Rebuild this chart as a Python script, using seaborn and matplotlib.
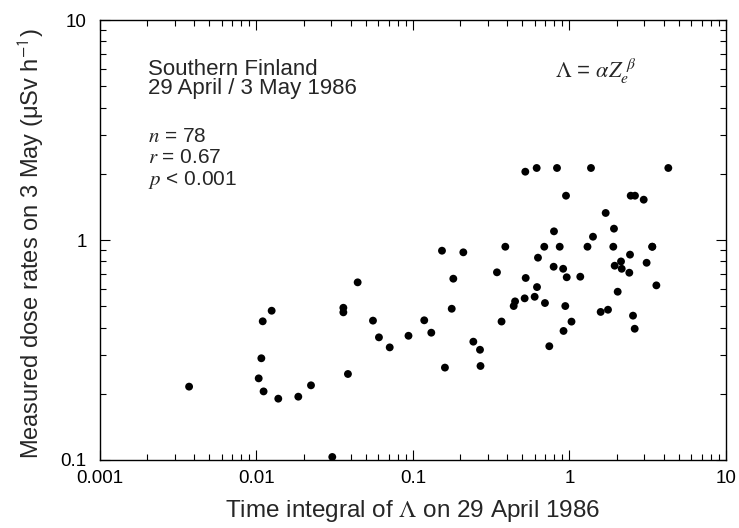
import matplotlib
matplotlib.use("Agg")
import matplotlib.pyplot as plt
import seaborn as sns
import pandas as pd
from matplotlib.ticker import FixedLocator, FixedFormatter, LogLocator, NullFormatter

# time integral of Lambda on 29 April (x) and dose rate on 3 May (y)
time_integral = [
    0.00371, 0.01096, 0.0125, 0.01074, 0.01033, 0.0111, 0.01378, 0.0185, 0.0223,
    0.0305, 0.0359, 0.0359, 0.0384, 0.0443, 0.0555, 0.0606, 0.0710, 0.0936,
    0.522, 0.617, 0.832, 1.372, 4.28, 0.950, 2.461, 2.621, 2.98, 1.703, 1.924,
    0.796, 1.413, 0.1532, 0.2097, 0.389, 0.690, 0.866, 1.303, 1.905, 3.38, 3.38,
    0.629, 2.436, 2.134, 1.944, 2.156, 3.11, 2.411, 0.792, 0.911, 0.960, 1.172,
    0.181, 0.344, 0.525, 0.620, 3.59, 2.032, 0.449, 0.440, 0.517, 0.599, 0.697,
    0.940, 0.1768, 1.582, 1.762, 2.546, 0.118, 0.368, 1.030, 0.1309, 0.916,
    2.61, 0.243, 0.268, 0.743, 0.160, 0.270,
]
dose_rate = [
    0.2155, 0.427, 0.477, 0.290, 0.235, 0.205, 0.190, 0.194, 0.2185,
    0.1032, 0.492, 0.469, 0.246, 0.642, 0.430, 0.361, 0.325, 0.367,
    2.044, 2.125, 2.125, 2.125, 2.125, 1.590, 1.590, 1.590, 1.525, 1.327, 1.126,
    1.095, 1.035, 0.894, 0.879, 0.932, 0.932, 0.932, 0.932, 0.932, 0.932, 0.932,
    0.831, 0.858, 0.799, 0.764, 0.740, 0.788, 0.710, 0.756, 0.740, 0.677, 0.681,
    0.667, 0.713, 0.672, 0.611, 0.622, 0.582, 0.526, 0.501, 0.543, 0.552, 0.517,
    0.501, 0.487, 0.471, 0.482, 0.453, 0.4315, 0.426, 0.4256, 0.379, 0.386,
    0.395, 0.345, 0.317, 0.329, 0.263, 0.2675,
]

x_ticks = [0.001, 0.01, 0.1, 1, 10]
x_tick_labels = ["0.001", "0.01", "0.1", "1", "10"]
y_ticks = [0.1, 1, 10]
y_tick_labels = ["0.1", "1", "10"]

df = pd.DataFrame({"lam": time_integral, "dose": dose_rate})

sns.set_style("ticks")
plt.rcParams["font.family"] = ["Liberation Sans", "DejaVu Sans"]
plt.rcParams["mathtext.fontset"] = "stix"

fig = plt.figure(figsize=(7.39, 5.28), dpi=100)
ax = fig.add_axes([0.1353, 0.1288, 0.8471, 0.8333])

sns.scatterplot(data=df, x="lam", y="dose", ax=ax, color="black",
                s=32, edgecolor="none", legend=False)

ax.set_xscale("log")
ax.set_yscale("log")
ax.set_xlim(0.001, 10)
ax.set_ylim(0.1, 10)

ax.xaxis.set_major_locator(FixedLocator(x_ticks))
ax.xaxis.set_major_formatter(FixedFormatter(x_tick_labels))
ax.yaxis.set_major_locator(FixedLocator(y_ticks))
ax.yaxis.set_major_formatter(FixedFormatter(y_tick_labels))
for axis in (ax.xaxis, ax.yaxis):
    axis.set_minor_locator(LogLocator(base=10, subs=range(2, 10)))
    axis.set_minor_formatter(NullFormatter())

ax.tick_params(which="both", direction="in", top=True, right=True,
               color="black", width=0.8, labelsize=13.5, labelcolor="black")
ax.tick_params(which="major", length=7)
ax.tick_params(which="minor", length=4)
ax.tick_params(axis="x", which="major", pad=7.5)
ax.tick_params(axis="y", which="major", pad=9.5)
for sp in ax.spines.values():
    sp.set_visible(True)
    sp.set_color("black")
    sp.set_linewidth(1.0)

ax.set_xlabel(r"Time integral of $\Lambda$ on 29 April 1986", fontsize=17.5)
ax.set_ylabel(r"Measured dose rates on 3 May (μSv h$^{\mathsf{-1}}$)", fontsize=17)
ax.xaxis.set_label_coords(0.5, -0.087)
ax.yaxis.set_label_coords(-0.087, 0.492)

ax.text(0.0767, 0.832, "Southern Finland\n29 April / 3 May 1986", transform=ax.transAxes,
        fontsize=16, va="baseline", linespacing=0.9)
ax.text(0.0767, 0.723, r"$n$ = 78", transform=ax.transAxes, fontsize=15, va="baseline")
ax.text(0.0767, 0.675, r"$r$ = 0.67", transform=ax.transAxes, fontsize=15, va="baseline")
ax.text(0.0767, 0.626, r"$p$ < 0.001", transform=ax.transAxes, fontsize=15, va="baseline")
ax.text(0.727, 0.870, r"$\Lambda$ = $\alpha Z_e^{\ \beta}$", transform=ax.transAxes,
        fontsize=16, va="baseline")

fig.savefig("out.png", dpi=100)
